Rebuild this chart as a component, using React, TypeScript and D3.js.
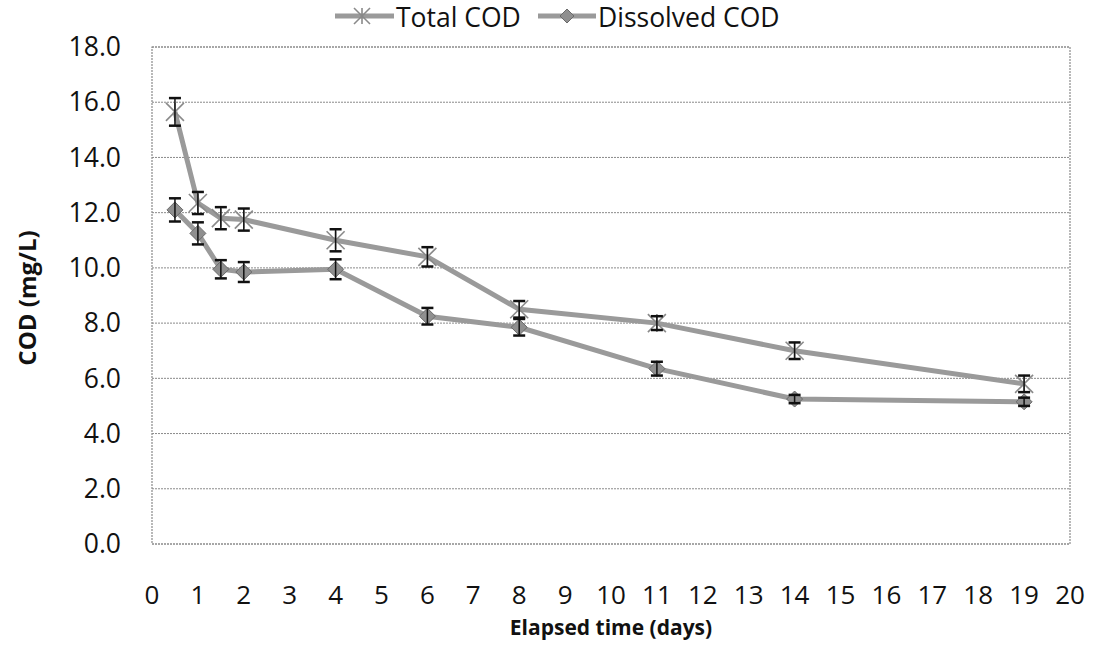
import React from "react";
import * as d3 from "d3";

const days = [0.5, 1, 1.5, 2, 4, 6, 8, 11, 14, 19];
const totalCOD = [15.65, 12.35, 11.8, 11.75, 11.0, 10.4, 8.5, 8.0, 7.0, 5.8];
const totalErr = [0.5, 0.4, 0.4, 0.4, 0.4, 0.35, 0.3, 0.25, 0.3, 0.3];
const dissolvedCOD = [12.1, 11.25, 9.95, 9.85, 9.95, 8.25, 7.85, 6.35, 5.25, 5.15];
const dissolvedErr = [0.42, 0.4, 0.33, 0.36, 0.36, 0.3, 0.3, 0.25, 0.15, 0.15];
const xTicks = d3.range(0, 21, 1);
const yTicks = d3.range(0, 18.1, 2);

const W = 1095;
const H = 660;
const left = 152;
const right = 1070;
const top = 47;
const bottom = 544;

const FONT = "'Open Sans', 'Liberation Sans', sans-serif";
const LINE_COLOR = "#9a9a9a";

export default function App() {
  const x = d3.scaleLinear().domain([0, 20]).range([left, right]);
  const y = d3.scaleLinear().domain([0, 18]).range([bottom, top]);
  const line = d3
    .line<number>()
    .x((_, i) => x(days[i]))
    .y((d) => y(d));

  const star = (cx: number, cy: number, key: string, r = 9) => (
    <g key={key} stroke="#8a8a8a" strokeWidth={1.6}>
      <line x1={cx - r} y1={cy - r} x2={cx + r} y2={cy + r} />
      <line x1={cx - r} y1={cy + r} x2={cx + r} y2={cy - r} />
      <line x1={cx} y1={cy - r} x2={cx} y2={cy + r} />
    </g>
  );
  const diamond = (cx: number, cy: number, key: string, r = 8) => (
    <path
      key={key}
      d={`M${cx},${cy - r}L${cx + r},${cy}L${cx},${cy + r}L${cx - r},${cy}Z`}
      fill="#8f8f8f"
      stroke="#6a6a6a"
      strokeWidth={1}
    />
  );
  const errBar = (cx: number, v: number, e: number, key: string) => {
    const y1 = y(v + e);
    const y2 = y(v - e);
    return (
      <g key={key} stroke="#111" fill="none">
        <line x1={cx} y1={y1} x2={cx} y2={y2} strokeWidth={1.5} />
        <line x1={cx - 6} y1={y1} x2={cx + 6} y2={y1} strokeWidth={2.5} />
        <line x1={cx - 6} y1={y2} x2={cx + 6} y2={y2} strokeWidth={2.5} />
      </g>
    );
  };

  return (
    <div style={{ position: "absolute", left: 0, top: 0 }}>
      <svg width={W} height={H} style={{ display: "block", background: "#fff" }} fontFamily={FONT}>
        {/* gridlines */}
        {yTicks.map((t) => (
          <line
            key={"g" + t}
            x1={left}
            x2={right}
            y1={y(t)}
            y2={y(t)}
            stroke="#8a8a8a"
            strokeWidth={1}
            strokeDasharray="2,1"
          />
        ))}
        {/* plot border */}
        <rect
          x={left}
          y={top}
          width={right - left}
          height={bottom - top}
          fill="none"
          stroke="#8a8a8a"
          strokeWidth={1.2}
          strokeDasharray="2,1"
        />
        {/* y tick labels */}
        {yTicks.map((t) => (
          <text
            key={"yl" + t}
            x={121}
            y={y(t)}
            dy="0.35em"
            textAnchor="end"
            fontSize={26.5}
            fill="#111"
          >
            {t.toFixed(1)}
          </text>
        ))}
        {/* x tick labels */}
        {xTicks.map((t) => (
          <text key={"xl" + t} x={x(t)} y={604} textAnchor="middle" fontSize={26} fill="#111">
            {t}
          </text>
        ))}
        {/* axis titles */}
        <text
          transform={`translate(36,298) rotate(-90)`}
          textAnchor="middle"
          fontSize={24}
          fontWeight="bold"
          fill="#111"
        >
          COD (mg/L)
        </text>
        <text x={611} y={635} textAnchor="middle" fontSize={21} fontWeight="bold" fill="#111">
          Elapsed time (days)
        </text>
        {/* lines */}
        <path d={line(totalCOD) || ""} fill="none" stroke={LINE_COLOR} strokeWidth={5} />
        <path d={line(dissolvedCOD) || ""} fill="none" stroke={LINE_COLOR} strokeWidth={5} />
        {/* markers */}
        {totalCOD.map((v, i) => star(x(days[i]), y(v), "s" + i))}
        {dissolvedCOD.map((v, i) => diamond(x(days[i]), y(v), "d" + i))}
        {/* error bars */}
        {totalCOD.map((v, i) => errBar(x(days[i]), v, totalErr[i], "te" + i))}
        {dissolvedCOD.map((v, i) => errBar(x(days[i]), v, dissolvedErr[i], "de" + i))}
        {/* legend */}
        <g>
          <line x1={335} x2={394} y1={16} y2={16} stroke={LINE_COLOR} strokeWidth={5} />
          {star(362, 16, "ls", 8)}
          <text x={396} y={18} dy="0.35em" fontSize={26.5} fill="#111">
            Total COD
          </text>
          <line x1={538} x2={596} y1={16} y2={16} stroke={LINE_COLOR} strokeWidth={5} />
          {diamond(567, 16, "ld", 7)}
          <text x={598} y={18} dy="0.35em" fontSize={26.5} fill="#111">
            Dissolved COD
          </text>
        </g>
      </svg>
    </div>
  );
}
